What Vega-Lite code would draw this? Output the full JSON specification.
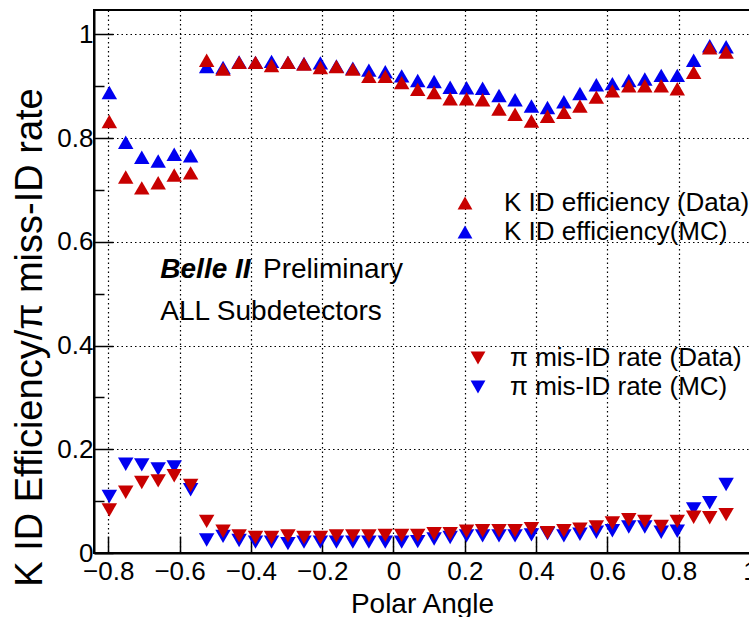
{
  "$schema": "https://vega.github.io/schema/vega-lite/v6.json",
  "width": 656,
  "height": 543,
  "autosize": {"type": "none"},
  "padding": {"left": 94, "top": 10, "right": -1, "bottom": 64},
  "background": "white",
  "config": {
    "font": "Liberation Sans",
    "view": {"stroke": "black", "strokeWidth": 2}
  },
  "data": {
    "values": [
      {"angle": -0.797, "eff_data": 0.832, "eff_mc": 0.888, "mis_data": 0.083, "mis_mc": 0.109},
      {"angle": -0.751, "eff_data": 0.725, "eff_mc": 0.792, "mis_data": 0.117, "mis_mc": 0.171},
      {"angle": -0.706, "eff_data": 0.704, "eff_mc": 0.763, "mis_data": 0.136, "mis_mc": 0.170},
      {"angle": -0.660, "eff_data": 0.714, "eff_mc": 0.756, "mis_data": 0.139, "mis_mc": 0.162},
      {"angle": -0.615, "eff_data": 0.729, "eff_mc": 0.769, "mis_data": 0.149, "mis_mc": 0.166},
      {"angle": -0.569, "eff_data": 0.733, "eff_mc": 0.766, "mis_data": 0.130, "mis_mc": 0.122},
      {"angle": -0.524, "eff_data": 0.950, "eff_mc": 0.938, "mis_data": 0.061, "mis_mc": 0.025},
      {"angle": -0.478, "eff_data": 0.933, "eff_mc": 0.936, "mis_data": 0.042, "mis_mc": 0.032},
      {"angle": -0.433, "eff_data": 0.946, "eff_mc": 0.947, "mis_data": 0.033, "mis_mc": 0.024},
      {"angle": -0.387, "eff_data": 0.946, "eff_mc": 0.946, "mis_data": 0.030, "mis_mc": 0.021},
      {"angle": -0.342, "eff_data": 0.940, "eff_mc": 0.948, "mis_data": 0.030, "mis_mc": 0.021},
      {"angle": -0.296, "eff_data": 0.946, "eff_mc": 0.946, "mis_data": 0.033, "mis_mc": 0.018},
      {"angle": -0.251, "eff_data": 0.943, "eff_mc": 0.944, "mis_data": 0.030, "mis_mc": 0.021},
      {"angle": -0.205, "eff_data": 0.936, "eff_mc": 0.945, "mis_data": 0.030, "mis_mc": 0.021},
      {"angle": -0.160, "eff_data": 0.938, "eff_mc": 0.939, "mis_data": 0.033, "mis_mc": 0.021},
      {"angle": -0.114, "eff_data": 0.933, "eff_mc": 0.935, "mis_data": 0.033, "mis_mc": 0.021},
      {"angle": -0.069, "eff_data": 0.919, "eff_mc": 0.931, "mis_data": 0.033, "mis_mc": 0.021},
      {"angle": -0.023, "eff_data": 0.919, "eff_mc": 0.928, "mis_data": 0.034, "mis_mc": 0.021},
      {"angle": 0.023, "eff_data": 0.907, "eff_mc": 0.920, "mis_data": 0.034, "mis_mc": 0.021},
      {"angle": 0.068, "eff_data": 0.894, "eff_mc": 0.911, "mis_data": 0.034, "mis_mc": 0.022},
      {"angle": 0.114, "eff_data": 0.888, "eff_mc": 0.909, "mis_data": 0.037, "mis_mc": 0.027},
      {"angle": 0.159, "eff_data": 0.876, "eff_mc": 0.898, "mis_data": 0.037, "mis_mc": 0.030},
      {"angle": 0.205, "eff_data": 0.876, "eff_mc": 0.897, "mis_data": 0.042, "mis_mc": 0.033},
      {"angle": 0.250, "eff_data": 0.874, "eff_mc": 0.896, "mis_data": 0.043, "mis_mc": 0.033},
      {"angle": 0.296, "eff_data": 0.856, "eff_mc": 0.882, "mis_data": 0.043, "mis_mc": 0.033},
      {"angle": 0.341, "eff_data": 0.846, "eff_mc": 0.874, "mis_data": 0.043, "mis_mc": 0.033},
      {"angle": 0.387, "eff_data": 0.833, "eff_mc": 0.862, "mis_data": 0.047, "mis_mc": 0.035},
      {"angle": 0.432, "eff_data": 0.842, "eff_mc": 0.859, "mis_data": 0.039, "mis_mc": 0.037},
      {"angle": 0.478, "eff_data": 0.850, "eff_mc": 0.870, "mis_data": 0.043, "mis_mc": 0.033},
      {"angle": 0.523, "eff_data": 0.862, "eff_mc": 0.886, "mis_data": 0.046, "mis_mc": 0.036},
      {"angle": 0.569, "eff_data": 0.879, "eff_mc": 0.903, "mis_data": 0.050, "mis_mc": 0.040},
      {"angle": 0.614, "eff_data": 0.891, "eff_mc": 0.905, "mis_data": 0.058, "mis_mc": 0.043},
      {"angle": 0.660, "eff_data": 0.901, "eff_mc": 0.911, "mis_data": 0.064, "mis_mc": 0.050},
      {"angle": 0.705, "eff_data": 0.901, "eff_mc": 0.914, "mis_data": 0.061, "mis_mc": 0.050},
      {"angle": 0.751, "eff_data": 0.901, "eff_mc": 0.921, "mis_data": 0.051, "mis_mc": 0.040},
      {"angle": 0.796, "eff_data": 0.895, "eff_mc": 0.921, "mis_data": 0.061, "mis_mc": 0.042},
      {"angle": 0.842, "eff_data": 0.927, "eff_mc": 0.950, "mis_data": 0.069, "mis_mc": 0.085},
      {"angle": 0.887, "eff_data": 0.974, "eff_mc": 0.978, "mis_data": 0.068, "mis_mc": 0.097},
      {"angle": 0.933, "eff_data": 0.966, "eff_mc": 0.976, "mis_data": 0.074, "mis_mc": 0.132}
    ]
  },
  "layer": [
    {
      "transform": [{"fold": ["eff_mc", "eff_data"], "as": ["series", "value"]}],
      "mark": {"type": "point", "shape": "triangle-up", "filled": true, "opacity": 1, "size": 240, "strokeWidth": 0},
      "encoding": {
        "x": {
          "field": "angle",
          "type": "quantitative",
          "scale": {"domain": [-0.84, 1.0], "nice": false, "zero": false},
          "axis": {
            "title": "Polar Angle",
            "values": [-0.8, -0.75, -0.7, -0.65, -0.6, -0.55, -0.5, -0.45, -0.4, -0.35, -0.3, -0.25, -0.2, -0.15, -0.1, -0.05, 0, 0.05, 0.1, 0.15, 0.2, 0.25, 0.3, 0.35, 0.4, 0.45, 0.5, 0.55, 0.6, 0.65, 0.7, 0.75, 0.8, 0.85, 0.9, 0.95, 1],
            "format": "~g",
            "labelExpr": "abs(datum.value * 5 - round(datum.value * 5)) < 0.001 ? datum.label : ''",
            "labelFontSize": 26,
            "labelColor": "black",
            "labelPadding": 22,
            "labelFlush": false,
            "labelOverlap": false,
            "labelBound": false,
            "tickSize": {"condition": {"test": "abs(datum.value * 5 - round(datum.value * 5)) < 0.001", "value": -17}, "value": -9},
            "tickColor": "black",
            "tickWidth": 1.5,
            "domainColor": "black",
            "domainWidth": 2,
            "grid": true,
            "gridColor": "black",
            "gridDash": [1.5, 3],
            "gridWidth": 1.2,
            "gridOpacity": {"condition": {"test": "abs(datum.value * 5 - round(datum.value * 5)) < 0.001", "value": 1}, "value": 0},
            "titleFontSize": 28,
            "titleFontWeight": "normal",
            "titleColor": "black",
            "titleAnchor": "middle",
            "titleBaseline": "alphabetic",
            "titleY": 59
          }
        },
        "y": {
          "field": "value",
          "type": "quantitative",
          "scale": {"domain": [0, 1.047], "nice": false},
          "axis": {
            "title": "K ID Efficiency/π miss-ID rate",
            "values": [0, 0.05, 0.1, 0.15, 0.2, 0.25, 0.3, 0.35, 0.4, 0.45, 0.5, 0.55, 0.6, 0.65, 0.7, 0.75, 0.8, 0.85, 0.9, 0.95, 1],
            "format": "~g",
            "labelExpr": "abs(datum.value * 5 - round(datum.value * 5)) < 0.001 ? datum.label : ''",
            "labelFontSize": 26,
            "labelColor": "black",
            "labelPadding": 20,
            "labelFlush": false,
            "labelOverlap": false,
            "labelBound": false,
            "tickSize": {"condition": {"test": "abs(datum.value * 5 - round(datum.value * 5)) < 0.001", "value": -19}, "value": -10},
            "tickColor": "black",
            "tickWidth": 1.5,
            "domainColor": "black",
            "domainWidth": 2,
            "grid": true,
            "gridColor": "black",
            "gridDash": [1.5, 3],
            "gridWidth": 1.2,
            "gridOpacity": {"condition": {"test": "abs(datum.value * 5 - round(datum.value * 5)) < 0.001 && datum.value > 0.01", "value": 1}, "value": 0},
            "titleFontSize": 38,
            "titleFontWeight": "normal",
            "titleColor": "black",
            "titleAngle": -90,
            "titleAlign": "center",
            "titleBaseline": "bottom",
            "titleX": -45,
            "titleY": 327
          }
        },
        "color": {
          "field": "series",
          "type": "nominal",
          "scale": {"domain": ["eff_data", "eff_mc"], "range": ["#c80000", "#0000f0"]},
          "legend": {
            "orient": "none",
            "legendX": 358,
            "legendY": 180,
            "title": null,
            "padding": 0,
            "symbolType": "triangle-up",
            "symbolSize": 220,
            "symbolStrokeWidth": 0,
            "labelFontSize": 26,
            "labelColor": "black",
            "labelOffset": 26,
            "labelLimit": 400,
            "rowPadding": 3,
            "labelExpr": "datum.value == 'eff_data' ? 'K ID efficiency (Data)' : 'K ID efficiency(MC)'"
          }
        }
      }
    },
    {
      "transform": [{"fold": ["mis_mc", "mis_data"], "as": ["series", "value"]}],
      "mark": {"type": "point", "shape": "triangle-down", "filled": true, "opacity": 1, "size": 240, "strokeWidth": 0},
      "encoding": {
        "x": {"field": "angle", "type": "quantitative"},
        "y": {"field": "value", "type": "quantitative"},
        "color": {
          "field": "series",
          "type": "nominal",
          "scale": {"domain": ["mis_data", "mis_mc"], "range": ["#c80000", "#0000f0"]},
          "legend": {
            "orient": "none",
            "legendX": 371,
            "legendY": 335,
            "title": null,
            "padding": 0,
            "symbolType": "triangle-down",
            "symbolSize": 220,
            "symbolStrokeWidth": 0,
            "labelFontSize": 26,
            "labelColor": "black",
            "labelOffset": 19,
            "labelLimit": 400,
            "rowPadding": 3,
            "labelExpr": "datum.value == 'mis_data' ? 'π mis-ID rate (Data)' : 'π mis-ID rate (MC)'"
          }
        }
      }
    },
    {
      "data": {"values": [{"label": "Belle II", "x": -0.654, "y": 0.530}]},
      "mark": {"type": "text", "fontSize": 28, "fontStyle": "italic", "fontWeight": "bold", "align": "left", "baseline": "alphabetic", "color": "black"},
      "encoding": {
        "text": {"field": "label"},
        "x": {"field": "x", "type": "quantitative"},
        "y": {"field": "y", "type": "quantitative"}
      }
    },
    {
      "data": {"values": [{"label": "Preliminary", "x": -0.366, "y": 0.530}, {"label": "ALL Subdetectors", "x": -0.654, "y": 0.450}]},
      "mark": {"type": "text", "fontSize": 28, "align": "left", "baseline": "alphabetic", "color": "black"},
      "encoding": {
        "text": {"field": "label"},
        "x": {"field": "x", "type": "quantitative"},
        "y": {"field": "y", "type": "quantitative"}
      }
    }
  ],
  "resolve": {"scale": {"color": "independent"}}
}
